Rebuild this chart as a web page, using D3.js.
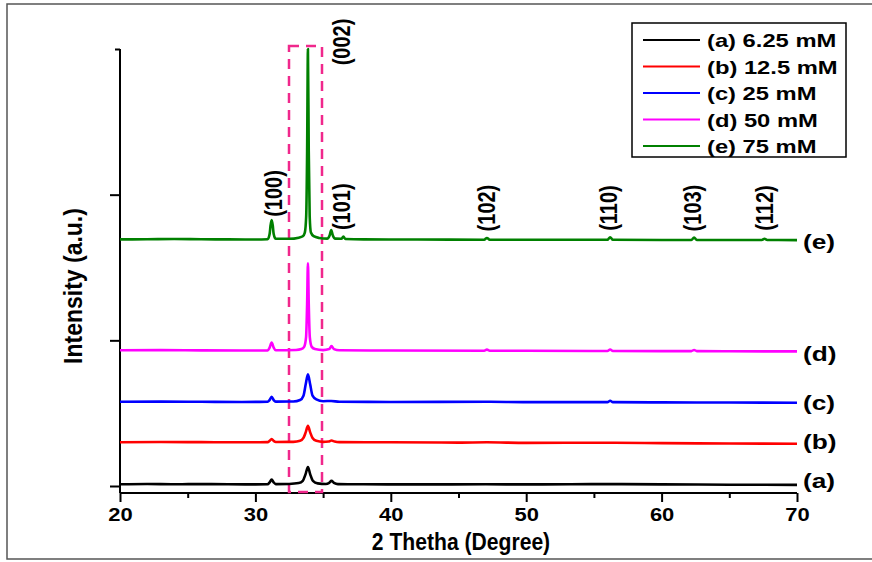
<!DOCTYPE html>
<html>
<head>
<meta charset="utf-8">
<script src="https://cdn.jsdelivr.net/npm/d3@7"></script>
<style>
  body { margin: 0; background: #fff; }
  svg { display: block; font-family: "Liberation Sans", Arial, sans-serif; font-weight: bold; }
</style>
</head>
<body>
<svg id="chart" width="872" height="562"></svg>
<script>
// 2 theta (degree) vs intensity (a.u., stacked offsets)
const seriesNames = ['(a) 6.25 mM', '(b) 12.5 mM', '(c) 25 mM', '(d) 50 mM', '(e) 75 mM'];
const seriesTags = ['(a)', '(b)', '(c)', '(d)', '(e)'];
const seriesColors = ['#000000', '#ff0000', '#0000ff', '#ff00ff', '#008000'];

const traceA = [[20,0.012],[22,0.014],[24,0.012],[26,0.013],[28,0.012],[30,0.011],[30.9,0.012],[31.05,0.025],[31.2,0.045],[31.35,0.025],[31.5,0.013],[32.5,0.014],[33.2,0.02],[33.5,0.035],[33.7,0.08],[33.88,0.13],[34.05,0.08],[34.25,0.035],[34.6,0.018],[35.2,0.014],[35.45,0.022],[35.62,0.035],[35.8,0.022],[36.1,0.013],[38,0.012],[42,0.011],[47,0.012],[50,0.011],[56.2,0.013],[60,0.011],[65,0.009],[70,0.008]];
const traceB = [[20,0.300],[23,0.302],[26,0.301],[29,0.300],[30.9,0.301],[31.05,0.31],[31.2,0.323],[31.35,0.31],[31.5,0.302],[32.8,0.303],[33.3,0.31],[33.55,0.33],[33.72,0.37],[33.88,0.414],[34.04,0.37],[34.22,0.33],[34.5,0.31],[35.0,0.303],[35.4,0.305],[35.62,0.312],[35.85,0.305],[36.2,0.301],[40,0.300],[45,0.298],[47.1,0.300],[50,0.296],[56.2,0.297],[60,0.294],[65,0.292],[70,0.29]];
const traceC = [[20,0.578],[23,0.579],[26,0.578],[29,0.577],[30.9,0.578],[31.05,0.59],[31.2,0.613],[31.35,0.59],[31.5,0.579],[32.8,0.58],[33.3,0.59],[33.55,0.62],[33.72,0.70],[33.88,0.767],[34.04,0.70],[34.22,0.62],[34.5,0.595],[35.0,0.582],[35.6,0.584],[36.2,0.578],[40,0.577],[47.1,0.578],[50,0.576],[56.0,0.576],[56.2,0.585],[56.4,0.576],[60,0.574],[65,0.573],[70,0.572]];
const traceD = [[20,0.932],[23,0.933],[26,0.931],[29,0.93],[30.9,0.931],[31.05,0.95],[31.2,0.984],[31.35,0.95],[31.5,0.932],[33.0,0.934],[33.4,0.94],[33.6,0.955],[33.74,1.02],[33.82,1.25],[33.88,1.529],[33.94,1.25],[34.02,1.02],[34.16,0.955],[34.4,0.94],[35.0,0.933],[35.45,0.94],[35.62,0.96],[35.8,0.94],[36.2,0.932],[40,0.93],[46.9,0.929],[47.1,0.936],[47.3,0.929],[50,0.928],[56.0,0.927],[56.2,0.937],[56.4,0.927],[60,0.926],[62.2,0.926],[62.4,0.934],[62.6,0.926],[65,0.925],[70,0.924]];
const traceE = [[20,1.693],[22,1.694],[24,1.696],[26,1.694],[28,1.693],[30,1.692],[30.9,1.694],[31.05,1.73],[31.12,1.79],[31.2,1.826],[31.28,1.79],[31.35,1.73],[31.5,1.697],[32.5,1.697],[33.2,1.705],[33.5,1.715],[33.65,1.74],[33.75,1.85],[33.82,2.3],[33.88,3.0],[33.94,2.3],[34.01,1.85],[34.1,1.74],[34.3,1.715],[34.7,1.703],[35.3,1.698],[35.48,1.72],[35.6,1.757],[35.72,1.72],[35.9,1.698],[36.35,1.697],[36.5,1.712],[36.65,1.696],[38,1.693],[42,1.692],[46.9,1.691],[47.1,1.703],[47.3,1.691],[50,1.69],[54,1.69],[56.0,1.69],[56.2,1.708],[56.4,1.69],[60,1.689],[62.2,1.689],[62.4,1.706],[62.6,1.689],[65,1.689],[67.4,1.689],[67.6,1.697],[67.8,1.689],[70,1.688]];
const traces = [traceA, traceB, traceC, traceD, traceE];

// hkl labels: 2theta of label and intensity at label centre
const peakLabels = ['(100)', '(002)', '(101)', '(102)', '(110)', '(103)', '(112)'];
const peakPos = [31.35, 36.4, 36.4, 47.1, 56.1, 62.35, 67.65];
const peakLabelY = [2.008, 3.048, 1.917, 1.908, 1.908, 1.908, 1.908];

const xTicks = [20, 30, 40, 50, 60, 70];
const xMinorTicks = [25, 35, 45, 55, 65];
const yTicks = [0, 1, 2];

const svg = d3.select('#chart');
const x = d3.scaleLinear().domain([20, 70]).range([120, 797]);
const y = d3.scaleLinear().domain([0, 3]).range([486, 49]);
const xAxisY = 493;

// outer frame
svg.append('rect')
  .attr('x', 7).attr('y', 4).attr('width', 880).attr('height', 555)
  .attr('fill', 'none').attr('stroke', '#555').attr('stroke-width', 1.5);

// x axis
const xAxis = svg.append('g').attr('transform', `translate(0,${xAxisY})`)
  .call(d3.axisBottom(x).tickValues(xTicks).tickSize(9).tickPadding(6).tickFormat(d3.format('d')));
xAxis.selectAll('.tick text')
  .attr('font-size', 18).attr('font-weight', 'bold')
  .attr('font-family', 'Liberation Sans, Arial, sans-serif')
  .attr('transform', 'scale(1.22,1)');
svg.append('g').attr('transform', `translate(0,${xAxisY})`)
  .call(d3.axisBottom(x).tickValues(xMinorTicks).tickSize(5).tickFormat(''));

// y axis, no labels
svg.append('g').attr('transform', 'translate(120,0)')
  .call(d3.axisLeft(y).tickValues(yTicks).tickSize(10).tickFormat(''));
svg.append('g').attr('transform', 'translate(120,0)')
  .call(d3.axisLeft(y).tickValues([3]).tickSize(5).tickFormat(''));
svg.append('line').attr('x1', 120).attr('x2', 120).attr('y1', y(3)).attr('y2', xAxisY);

svg.selectAll('.domain').remove();
svg.append('line').attr('x1', 120).attr('x2', 797).attr('y1', xAxisY).attr('y2', xAxisY);
svg.selectAll('line').attr('stroke', '#000').attr('stroke-width', 2);

// dashed box around (002)
svg.append('rect')
  .attr('x', 289).attr('y', 46).attr('width', 33).attr('height', 446)
  .attr('fill', 'none').attr('stroke', '#f0288c').attr('stroke-width', 2.5)
  .attr('stroke-dasharray', '10,7');

// traces
const line = d3.line().x(d => x(d[0])).y(d => y(d[1])).curve(d3.curveMonotoneX);
svg.append('g').selectAll('path').data(traces).join('path')
  .attr('d', line)
  .attr('fill', 'none')
  .attr('stroke', (d, i) => seriesColors[i])
  .attr('stroke-width', 2.6)
  .attr('stroke-linejoin', 'round');

// hkl labels
svg.append('g').selectAll('text').data(peakLabels).join('text')
  .attr('transform', (d, i) => `translate(${x(peakPos[i]) + 8},${y(peakLabelY[i])}) rotate(-90) scale(1,1.2)`)
  .attr('text-anchor', 'middle')
  .attr('font-size', 20)
  .text(d => d);

// series tags at right
const tagY = [481, 442, 403, 354, 242];
svg.append('g').selectAll('text').data(seriesTags).join('text')
  .attr('transform', (d, i) => `translate(803,${tagY[i] + 7}) scale(1.25,1)`)
  .attr('font-size', 21)
  .text(d => d);

// axis titles
svg.append('text').attr('transform', 'translate(461,550) scale(0.96,1.08)').attr('text-anchor', 'middle')
  .attr('font-size', 22).text('2 Thetha (Degree)');
svg.append('text').attr('transform', 'translate(82,286) rotate(-90) scale(1,1.1)').attr('text-anchor', 'middle')
  .attr('font-size', 23).text('Intensity (a.u.)');

// legend
const legend = svg.append('g');
legend.append('rect').attr('x', 632).attr('y', 23).attr('width', 214).attr('height', 134)
  .attr('fill', '#fff').attr('stroke', '#000').attr('stroke-width', 1.5);
const rows = legend.selectAll('g.row').data(seriesNames).join('g').attr('class', 'row')
  .attr('transform', (d, i) => `translate(0,${40 + i * 26.5})`);
rows.append('line').attr('x1', 643).attr('x2', 700).attr('y1', 0).attr('y2', 0)
  .attr('stroke', (d, i) => seriesColors[i]).attr('stroke-width', 2);
rows.append('text').attr('transform', 'translate(707,7) scale(1.25,1)')
  .attr('font-size', 19).text(d => d);
</script>
</body>
</html>
